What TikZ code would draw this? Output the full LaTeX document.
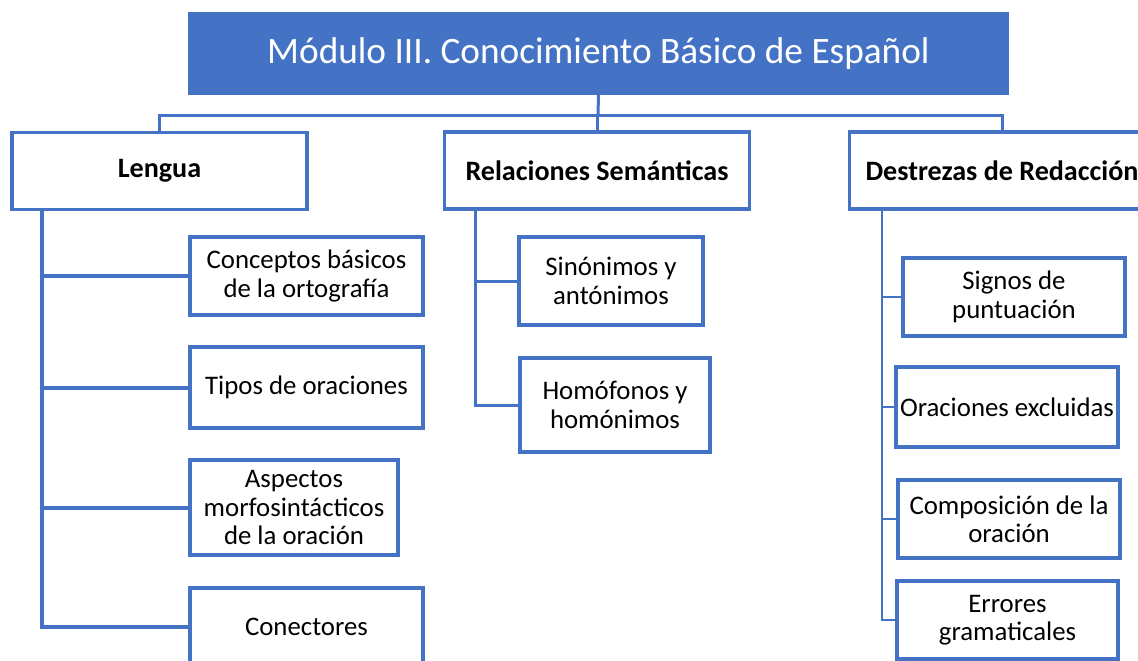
\documentclass[tikz,border=0pt]{standalone}
\usepackage{fontspec}
\setmainfont{Carlito}
\definecolor{blu}{HTML}{4472C4}

\begin{document}
\begin{tikzpicture}[x=1pt,y=-1pt,
    box/.style={draw=blu,line width=3.5pt,fill=white,align=center,inner sep=0pt,
      font=\fontsize{26.8}{28.3}\selectfont},
    head/.style={box,minimum height=77pt,font=\fontsize{28.1}{30}\selectfont\bfseries},
    wire/.style={draw=blu,line width=3pt}]
  \useasboundingbox (0,0) rectangle (1138,661);
  \clip (0,0) rectangle (1138,661);
  % title
  \node[fill=blu,text=white,minimum width=821pt,minimum height=83pt,
    font=\fontsize{37.3}{40}\selectfont] (M) at (598.5,53.5) {Módulo III. Conocimiento Básico de Español};
  % second level
  \node[head,minimum width=295pt] (L) at (159.5,171) {Lengua};
  \node[head,minimum width=305pt] (R) at (597,170.5) {Relaciones Semánticas};
  \node[head,minimum width=305pt] (D) at (1002,170.5) {Destrezas de Redacción};
  % Lengua
  \node[box,minimum width=233pt,minimum height=78pt] (L1) at (306.5,276) {Conceptos básicos\\de la ortografía};
  \node[box,minimum width=233pt,minimum height=81pt] (L2) at (306.5,387.5) {Tipos de oraciones};
  \node[box,minimum width=208pt,minimum height=95pt] (L3) at (294,507.5) {Aspectos\\morfosintácticos\\de la oración};
  \node[box,minimum width=233pt,minimum height=78pt] (L4) at (306.5,627) {Conectores};
  % Relaciones
  \node[box,minimum width=184pt,minimum height=88pt] (R1) at (611,281) {Sinónimos y\\antónimos};
  \node[box,minimum width=190pt,minimum height=94pt] (R2) at (615,405) {Homófonos y\\homónimos};
  % Destrezas
  \node[box,minimum width=222pt,minimum height=78pt] (D1) at (1014,297) {Signos de\\puntuación};
  \node[box,minimum width=222pt,minimum height=80pt] (D2) at (1007,407) {Oraciones excluidas};
  \node[box,minimum width=222pt,minimum height=78pt] (D3) at (1009,519) {Composición de la\\oración};
  \node[box,minimum width=221pt,minimum height=78pt] (D4) at (1007.5,620) {Errores\\gramaticales};

  \coordinate (J) at (598,115);
  \coordinate (L0) at (42,210);
  \coordinate (R0) at (475,208);
  \coordinate (D0) at (882,209);

  \draw[wire] (M.south) -- (J);
  \draw[wire] (J) -| (L.north);
  \draw[wire] (J) -| (R.north);
  \draw[wire] (J) -| (D.north);

  \draw[wire,line width=4pt] (L0) |- (L4.west);
  \foreach \n in {L1,L2,L3}
    \draw[wire,line width=4pt] (\n.west) -- (\n.west -| L0);
  \draw[wire] (R0) |- (R2.west);
  \draw[wire] (R1.west) -- (R1.west -| R0);
  \draw[wire,line width=2.5pt] (D0) |- (D4.west);
  \foreach \n in {D1,D2,D3}
    \draw[wire,line width=2.5pt] (\n.west) -- (\n.west -| D0);
\end{tikzpicture}
\end{document}
